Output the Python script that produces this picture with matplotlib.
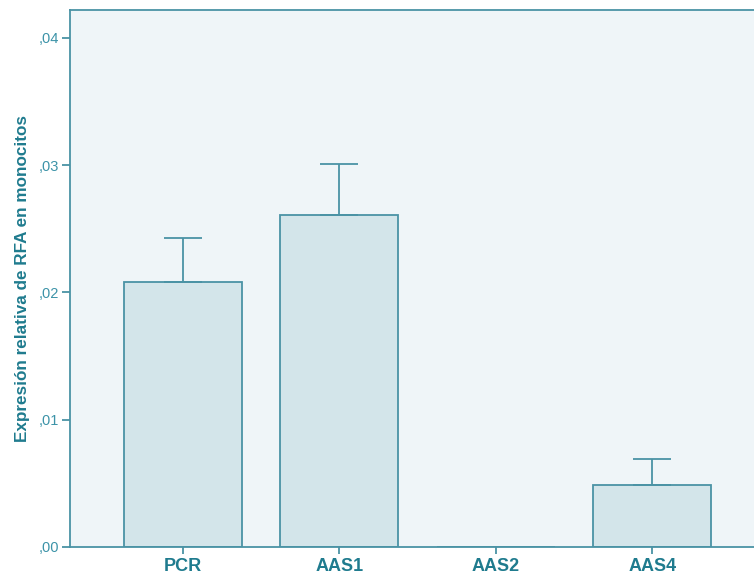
import numpy as np
import matplotlib.pyplot as plt

groups = ["PCR", "AAS1", "AAS2", "AAS4"]
means = [0.0208, 0.0261, 0.0, 0.0049]
errs = [0.0035, 0.0040, 0.0, 0.0020]
ytick_vals = [0.0, 0.01, 0.02, 0.03, 0.04]
ytick_labels = [",00", ",01", ",02", ",03", ",04"]

line_col = "#4a93a5"
text_col = "#1f7b8e"
tick_col = "#3c93a8"

plt.rcParams['font.family'] = ['Liberation Sans', 'DejaVu Sans']

fig = plt.figure(figsize=(7.54, 5.78), dpi=100)
ax = fig.add_axes([70 / 754, 31 / 578, 1 - 70 / 754 + 0.002, 537 / 578])
ax.set_facecolor("#eff5f8")

x = np.arange(len(groups))
ax.bar(x, means, width=0.755, color="#d3e5ea", edgecolor=line_col, linewidth=1.3, zorder=2)
for xi, m, e in zip(x, means, errs):
    if e > 0:
        ax.errorbar(xi, m, yerr=[[0], [e]], fmt="none", ecolor=line_col,
                    elinewidth=1.3, capsize=14, capthick=1.3, zorder=3)

ax.set_xlim(-0.72, 3.66)
ax.set_ylim(0, 0.0422)
ax.set_yticks(ytick_vals)
ax.set_yticklabels(ytick_labels)
ax.set_xticks(x)
ax.set_xticklabels(groups, fontweight="bold", fontsize=13, color=text_col)

ax.tick_params(axis="y", length=6, width=1.3, color=line_col, labelsize=10.5, labelcolor=tick_col, pad=2)
ax.tick_params(axis="x", length=5, width=1.3, color=line_col, pad=3)

for s in ["left", "bottom", "top"]:
    ax.spines[s].set_color(line_col)
    ax.spines[s].set_linewidth(1.3)
ax.spines["right"].set_visible(False)

ax.set_ylabel("Expresión relativa de RFA en monocitos", fontweight="bold", fontsize=12.3,
              color=text_col, labelpad=6)

fig.savefig("out.png", dpi=100)
